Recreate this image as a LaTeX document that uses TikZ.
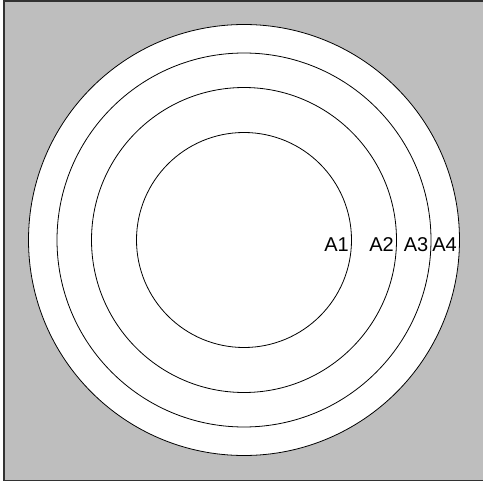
\documentclass[tikz,border=0pt]{standalone}
\usepackage{fontspec}
\setmainfont{Liberation Sans}
\definecolor{bggray}{RGB}{190,190,190}
\definecolor{frame}{RGB}{50,50,50}
\begin{document}
\begin{tikzpicture}[x=1pt,y=-1pt,
  ring/.style={circle, draw=black, line width=0.8pt, fill=white, inner sep=0pt, outer sep=0pt},
  lab/.style={anchor=base east, inner sep=0pt, font=\fontsize{20}{24}\selectfont}]
\useasboundingbox (0,0) rectangle (483,482);
\draw[fill=bggray, draw=frame, line width=1.5pt] (4,1) rectangle (484,480.5);
\coordinate (c) at (244,240);
\node[ring, minimum size=431pt] (r4) at (c) {};
\node[ring, minimum size=374pt] (r3) at (c) {};
\node[ring, minimum size=305pt] (r2) at (c) {};
\node[ring, minimum size=215pt] (r1) at (c) {};
\node[lab] (a1) at ([xshift=-2.5pt, yshift=-11pt]r1.east) {A1};
\node[lab] (a2) at ([xshift=-2.5pt, yshift=-11pt]r2.east) {A2};
\node[lab] (a3) at ([xshift=-2.5pt, yshift=-11pt]r3.east) {A3};
\node[lab] (a4) at ([xshift=-2.5pt, yshift=-11pt]r4.east) {A4};
\end{tikzpicture}
\end{document}
